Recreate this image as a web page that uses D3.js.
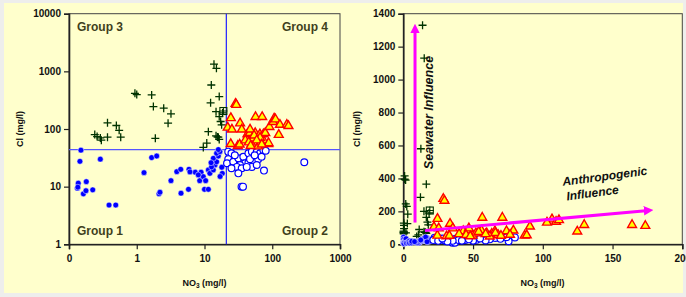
<!DOCTYPE html>
<html><head><meta charset="utf-8">
<script src="https://cdn.jsdelivr.net/npm/d3@7"></script>
<style>
html,body{margin:0;padding:0;background:#efefec;}
svg{display:block;font-family:Arial,"Liberation Sans",sans-serif;}
</style></head>
<body>
<svg id="c" width="686" height="297"></svg>
<script>
// ---------------- data (NO3 mg/l, Cl mg/l) ----------------
const group1NO3 = [0.15,0.145,0.29,0.137,0.18,0.133,0.135,0.163,0.178,0.224,0.39,0.49,1.28,1.66,1.97,2.13,2.2,3.2,3.9,4.46,4.5,5.9,5.8,7.3,8.9,8.5,9.6,10.4,10,11.4,11.4,6.1,8.1,12,13.5,14.3,12.7,15.1,13.5,16,15.1,16.9,18,18.3,16,12.5,17];
const group1Cl  = [43,27.5,30,11.5,12.2,9.4,9.8,7.5,8.5,8.8,4.8,4.8,17.5,31.9,34,7.5,8,12.7,18.2,20,7.7,20,9,17.8,17.8,12.7,14.9,12.7,9,9,19.5,18,16,17,19.5,23.8,22,27,31,34,38,40.5,21.7,17,44,26,15];

const group2NO3 = [297,75.5,35.2,37,22.4,25,22.4,21.5,26.6,31.6,37.4,44.5,50,59,66,74,39.6,44.5,52.5,62,69.6,33.4,30,35.4,31.6,25,50,59,42,80,28,47,55];
const group2Cl  = [26.5,19,10,10,40.5,38,30,25.5,27,31,33,38,40.5,40,38,43,25.5,26,27,30,33,23.8,22,20.8,17,20.8,22,23.8,22,42,35,30,35];

const group3NO3 = [0.24,0.26,0.29,0.30,0.37,0.58,0.55,0.5,0.37,0.94,1.0,1.66,1.76,2.5,3.2,2.9,1.88,13.8,15,12.6,16.5,12.3,14.8,16.5,17.3,17.9,11.4,14.8,16,16.5,10.8,9.6,18.5,15.5];
const group3Cl  = [80,74,70,64,72,72,95,115,128,415,395,390,245,230,183,126,69,1330,1130,580,365,285,200,164,135,118,90,76,72,66,57,48,190,73];

const group3bNO3 = [19];   // square marker
const group3bCl  = [205];

const group4NO3 = [28.7,29.5,24.5,33.5,35.5,22,25.4,56.6,71,31,33,24.4,43,46.6,49.7,56,59.8,63.4,65.7,74,78.9,76.5,87,88.5,90.8,106.6,109.5,103,111.6,124.7,129.7,164,173.5,47,52,62,68,40,54,66,59,45,48,70];
const group4Cl  = [279,268,158,128,100,108,100,165,165,52,55,56,83,87,56,87,70,67,83,83,87,61,56,58,111,155,140,135,150,81,121,121,115,100,70,51,60,65,79,72,65,60,52,55];

const groupLabels = ["Group 1","Group 2","Group 3","Group 4"];
const dividerNO3 = 21, dividerCl = 44;

const logXTicks = [0.1,1,10,100,1000];
const logXTickLabels = ["0","1","10","100","1000"];
const logYTicks = [1,10,100,1000,10000];
const logYTickLabels = ["1","10","100","1000","10000"];
const linXTicks = [0,50,100,150,200];
const linYTicks = [0,200,400,600,800,1000,1200,1400];

const seawaterArrow = {from:[8.4,132], to:[8.4,1335]};
const anthroArrow = {from:[15.5,83], to:[178.8,208]};
const seawaterText = "Seawater Influence";
const anthroText = ["Anthropogenic","Influence"];
const xTitle = "NO", xTitleSub = "3", xTitleRest = " (mg/l)";
const yTitle = "Cl (mg/l)";

// ---------------- drawing ----------------
const svg = d3.select("#c");
svg.append("rect").attr("x",0).attr("y",0).attr("width",686).attr("height",297).attr("fill","#eeeeec");
svg.append("rect").attr("x",4).attr("y",3).attr("width",679).attr("height",290).attr("fill","#ffffcc");

const pTop=13.7, pBot=244.3;
const xL = d3.scaleLog().domain([0.1,1000]).range([69,340]);
const yL = d3.scaleLog().domain([1,10000]).range([pBot,pTop]);
const xR = d3.scaleLinear().domain([0,200]).range([403.3,682.3]);
const yR = d3.scaleLinear().domain([0,1400]).range([pBot,pTop]);

const defs = svg.append("defs");
defs.append("clipPath").attr("id","clipL").append("rect").attr("x",64).attr("y",pTop-5).attr("width",340-64).attr("height",pBot-pTop+10);
defs.append("clipPath").attr("id","clipR").append("rect").attr("x",398).attr("y",pTop-5).attr("width",682.3-398).attr("height",pBot-pTop+10);
const mk = defs.append("marker").attr("id","ah").attr("viewBox","0 0 10 10").attr("refX",2).attr("refY",5)
  .attr("markerWidth",3.2).attr("markerHeight",3.2).attr("orient","auto");
mk.append("path").attr("d","M0,0L10,5L0,10Z").attr("fill","#ff00ff");

function zip(a,b){return a.map((v,i)=>[v,b[i]]);}
const g1 = zip(group1NO3,group1Cl), g2 = zip(group2NO3,group2Cl), g3 = zip(group3NO3,group3Cl),
      g3b = zip(group3bNO3,group3bCl), g4 = zip(group4NO3,group4Cl);

function panel(x,y,xTicks,xLabels,yTicks,yLabels,clipId){
  const g = svg.append("g");
  const x0=x.range()[0], x1=x.range()[1];
  g.append("rect").attr("x",x0).attr("y",pTop).attr("width",x1-x0).attr("height",pBot-pTop)
    .attr("fill","none").attr("stroke","#444").attr("stroke-width",1);
  const ya = g.append("g").attr("transform",`translate(${x0},0)`)
    .call(d3.axisLeft(y).tickValues(yTicks).tickFormat((d,i)=>yLabels[i]).tickSize(5).tickPadding(3));
  const xa = g.append("g").attr("transform",`translate(0,${pBot})`)
    .call(d3.axisBottom(x).tickValues(xTicks).tickFormat((d,i)=>xLabels[i]).tickSize(5).tickPadding(6));
  [ya,xa].forEach(a=>{
    a.select(".domain").attr("stroke","#222").attr("stroke-width",1.6);
    a.selectAll(".tick line").attr("stroke","#222").attr("stroke-width",1.2);
    a.selectAll("text").attr("font-size",10).attr("font-weight","bold").attr("fill","#111")
      .attr("font-family","Arial,'Liberation Sans',sans-serif");
  });
  const pg = g.append("g").attr("clip-path",`url(#${clipId})`);
  return {g,pg};
}

function drawPoints(pg,x,y){
  const plus = "M-4,0H4M0,-4V4";
  pg.selectAll(".p3").data(g3).join("path").attr("d",plus)
    .attr("transform",d=>`translate(${x(d[0])},${y(d[1])})`)
    .attr("stroke","#003300").attr("stroke-width",1.3).attr("fill","none");
  pg.selectAll(".p3b").data(g3b).join("g").attr("transform",d=>`translate(${x(d[0])},${y(d[1])})`)
    .each(function(){
      const s=d3.select(this);
      s.append("rect").attr("x",-3.5).attr("y",-3.5).attr("width",7).attr("height",7).attr("fill","none").attr("stroke","#003300").attr("stroke-width",1.1);
      s.append("path").attr("d",plus).attr("stroke","#003300").attr("stroke-width",1.1);
    });
  pg.selectAll(".p1").data(g1).join("circle").attr("cx",d=>x(d[0])).attr("cy",d=>y(d[1])).attr("r",2.9)
    .attr("fill","#0000ff").attr("stroke","#ffffff").attr("stroke-width",0.5);
  pg.selectAll(".p2").data(g2).join("circle").attr("cx",d=>x(d[0])).attr("cy",d=>y(d[1])).attr("r",3.4)
    .attr("fill","#ffffff").attr("stroke","#0000ff").attr("stroke-width",1.2);
  const tri = d3.symbol().type(d3.symbolTriangle).size(34);
  pg.selectAll(".p4").data(g4).join("path").attr("d",tri)
    .attr("transform",d=>`translate(${x(d[0])},${y(d[1])+0.5})`)
    .attr("fill","#ffff00").attr("stroke","#ff0000").attr("stroke-width",1.4).attr("stroke-linejoin","miter");
}

// left panel (log)
const L = panel(xL,yL,logXTicks,logXTickLabels,logYTicks,logYTickLabels,"clipL");
L.pg.append("line").attr("x1",xL(dividerNO3)).attr("x2",xL(dividerNO3)).attr("y1",pTop).attr("y2",pBot)
  .attr("stroke","#2020ff").attr("stroke-width",1.2);
L.pg.append("line").attr("x1",69).attr("x2",340).attr("y1",yL(dividerCl)).attr("y2",yL(dividerCl))
  .attr("stroke","#5555ff").attr("stroke-width",1.3);
drawPoints(L.pg,xL,yL);
const glab = (t,xx,yy,anchor)=>L.g.append("text").text(t).attr("x",xx).attr("y",yy).attr("text-anchor",anchor)
  .attr("font-size",12).attr("font-weight","bold").attr("fill","#3f3f1c");
glab(groupLabels[2],77,31,"start");
glab(groupLabels[3],328,31,"end");
glab(groupLabels[0],77,235,"start");
glab(groupLabels[1],328,235,"end");

// right panel (linear)
const R = panel(xR,yR,linXTicks,linXTicks.map(String),linYTicks,linYTicks.map(String),"clipR");
drawPoints(R.pg,xR,yR);
[seawaterArrow,anthroArrow].forEach(a=>{
  const x1=xR(a.from[0]), y1=yR(a.from[1]), x2=xR(a.to[0]), y2=yR(a.to[1]);
  const len=Math.hypot(x2-x1,y2-y1), ux=(x2-x1)/len, uy=(y2-y1)/len;
  R.g.append("line").attr("x1",x1).attr("y1",y1).attr("x2",x2-ux*7).attr("y2",y2-uy*7)
    .attr("stroke","#ff00ff").attr("stroke-width",3).attr("marker-end","url(#ah)");
});
R.g.append("text").text(seawaterText)
  .attr("transform",`translate(${xR(21)},${yR(800)}) rotate(-90)`).attr("text-anchor","middle")
  .attr("font-size",12.5).attr("font-weight","bold").attr("font-style","italic").attr("fill","#111");
const at = R.g.append("g").attr("transform",`translate(${xR(114.5)},${yR(355)}) rotate(-7.5)`);
at.append("text").text(anthroText[0]).attr("x",0).attr("y",0)
  .attr("font-size",12).attr("font-weight","bold").attr("font-style","italic").attr("fill","#111");
at.append("text").text(anthroText[1]).attr("x",2).attr("y",15)
  .attr("font-size",12).attr("font-weight","bold").attr("font-style","italic").attr("fill","#111");

// axis titles
function xTitleAt(cx){
  const t = svg.append("text").attr("x",cx).attr("y",286).attr("text-anchor","middle")
    .attr("font-size",9).attr("font-weight","bold").attr("fill","#111");
  t.append("tspan").text(xTitle);
  t.append("tspan").text(xTitleSub).attr("font-size",6.5).attr("dy",2);
  t.append("tspan").text(xTitleRest).attr("dy",-2);
}
xTitleAt(204.5); xTitleAt(542.5);
[[23,129],[360,129]].forEach(p=>{
  svg.append("text").text(yTitle).attr("transform",`translate(${p[0]},${p[1]}) rotate(-90)`)
    .attr("text-anchor","middle").attr("font-size",9).attr("font-weight","bold").attr("fill","#111");
});
</script>
</body></html>
